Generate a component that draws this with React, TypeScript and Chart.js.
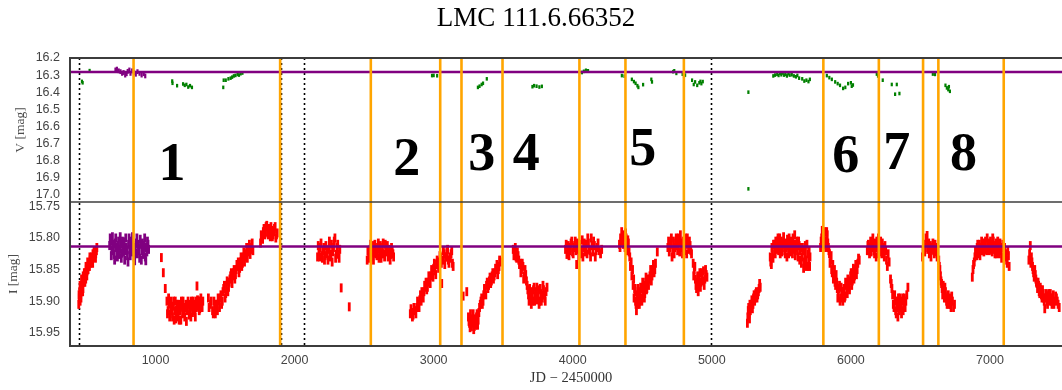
import React, { useEffect, useRef } from "react";
import { Chart, registerables } from "chart.js";

Chart.register(...registerables);

const W = 1062;
const H = 390;

const titleText = "LMC 111.6.66352";
const xAxisTitle = "JD \u2212 2450000";
const vAxisTitle = "V [mag]";
const iAxisTitle = "I [mag]";

// axis ranges and tick values
const xRange = [385, 7518];
const vRange = [16.2, 17.043];
const iRange = [15.743, 15.971];
const xTicks = [1000, 2000, 3000, 4000, 5000, 6000, 7000];
const vTicks = [16.2, 16.3, 16.4, 16.5, 16.6, 16.7, 16.8, 16.9, 17.0];
const iTicks = [15.75, 15.8, 15.85, 15.9, 15.95];

// reference (baseline) magnitudes
const refV = 16.282;
const refI = 15.8135;

// event boundaries (orange) and season gaps (dotted)
const eventBoundsJD = [842, 1896, 2548, 3047, 3200, 3495, 4048, 4379, 4799, 5802, 6201, 6519, 6629, 7099];
const gapJD = [451, 1905, 2069, 4993];

// event numbers placed on the V panel
const eventNames = ["1", "2", "3", "4", "5", "6", "7", "8"];
const eventNameJD = [1118, 2807, 3346, 3665, 4504, 5963, 6330, 6809];
const eventNameV = [16.805, 16.776, 16.747, 16.747, 16.722, 16.759, 16.743, 16.747];

// I band: [JD - 2450000, mag]
const iBand: number[][] = [
  // 1996-97
  [448, 15.905], [452, 15.895], [455, 15.885], [458, 15.9], [462, 15.89], [466, 15.875], [470, 15.885], [474, 15.87],
  [478, 15.88], [482, 15.865], [486, 15.87], [490, 15.86], [494, 15.855], [498, 15.865], [502, 15.85], [506, 15.86],
  [510, 15.845], [515, 15.85], [520, 15.84], [525, 15.845], [530, 15.835], [535, 15.84], [540, 15.83], [545, 15.835],
  [550, 15.825], [555, 15.83], [560, 15.82], [565, 15.83], [570, 15.825], [575, 15.82],
  [450, 15.89], [457, 15.875], [464, 15.895], [468, 15.865], [476, 15.885], [480, 15.86], [488, 15.855], [492, 15.87],
  [500, 15.845], [508, 15.852], [512, 15.838], [518, 15.845], [528, 15.83], [538, 15.832], [548, 15.84], [558, 15.822],
  [568, 15.832], [578, 15.815],
  // 1998-2000
  [1042, 15.831], [1056, 15.855], [1070, 15.88],
  [1082, 15.9], [1090, 15.915], [1098, 15.905], [1106, 15.92], [1114, 15.91], [1122, 15.925], [1130, 15.9], [1138, 15.915],
  [1146, 15.928], [1154, 15.905], [1162, 15.918], [1170, 15.93], [1178, 15.91], [1186, 15.9], [1194, 15.92], [1202, 15.912],
  [1210, 15.925], [1218, 15.905], [1226, 15.915], [1234, 15.9], [1242, 15.922], [1250, 15.91], [1258, 15.9], [1266, 15.918],
  [1274, 15.905], [1282, 15.912], [1290, 15.9], [1298, 15.876], [1306, 15.908], [1314, 15.915], [1322, 15.9], [1330, 15.905],
  [1340, 15.9],
  [1086, 15.92], [1094, 15.895], [1102, 15.925], [1110, 15.9], [1118, 15.915], [1126, 15.908], [1134, 15.93], [1142, 15.9],
  [1150, 15.915], [1158, 15.925], [1166, 15.905], [1174, 15.915], [1182, 15.93], [1190, 15.908], [1198, 15.9], [1206, 15.918],
  [1214, 15.91], [1222, 15.932], [1230, 15.912], [1238, 15.905], [1246, 15.915], [1254, 15.925], [1262, 15.908], [1270, 15.9],
  [1278, 15.915], [1286, 15.925], [1294, 15.91], [1302, 15.898], [1310, 15.9], [1318, 15.912], [1326, 15.895], [1335, 15.91],
  [1380, 15.895], [1395, 15.905], [1410, 15.915], [1420, 15.9], [1430, 15.92], [1440, 15.905], [1450, 15.895], [1460, 15.91],
  [1470, 15.89], [1480, 15.9], [1490, 15.88], [1500, 15.895], [1510, 15.875], [1520, 15.885], [1530, 15.87], [1540, 15.86],
  [1550, 15.872], [1560, 15.855], [1570, 15.865], [1580, 15.85], [1590, 15.845], [1600, 15.855], [1610, 15.838], [1620, 15.845],
  [1630, 15.83], [1640, 15.838], [1650, 15.825], [1660, 15.832], [1670, 15.818], [1680, 15.826], [1690, 15.815], [1700, 15.82],
  [1385, 15.91], [1400, 15.9], [1415, 15.92], [1425, 15.91], [1435, 15.905], [1445, 15.915], [1455, 15.9], [1465, 15.895],
  [1475, 15.905], [1485, 15.885], [1495, 15.875], [1505, 15.888], [1515, 15.868], [1525, 15.878], [1535, 15.865], [1545, 15.855],
  [1555, 15.86], [1565, 15.85], [1575, 15.858], [1585, 15.842], [1595, 15.838], [1605, 15.848], [1615, 15.83], [1625, 15.84],
  [1635, 15.822], [1645, 15.83], [1655, 15.815], [1665, 15.822], [1675, 15.81], [1685, 15.818], [1695, 15.808],
  [1755, 15.808], [1765, 15.8], [1775, 15.79], [1785, 15.795], [1795, 15.782], [1805, 15.79], [1815, 15.785], [1825, 15.798],
  [1835, 15.788], [1845, 15.795], [1855, 15.785], [1865, 15.8], [1875, 15.792],
  [1760, 15.795], [1770, 15.802], [1780, 15.785], [1790, 15.792], [1800, 15.78], [1810, 15.795], [1820, 15.788], [1830, 15.782],
  [1840, 15.798], [1850, 15.79], [1860, 15.782], [1870, 15.795],
  // 2001-02
  [2165, 15.83], [2175, 15.822], [2185, 15.815], [2195, 15.828], [2205, 15.82], [2215, 15.835], [2225, 15.812], [2235, 15.825],
  [2245, 15.818], [2255, 15.83], [2265, 15.81], [2275, 15.822], [2285, 15.805], [2295, 15.832], [2305, 15.815], [2315, 15.825],
  [2325, 15.818], [2335, 15.879], [2393, 15.909],
  [2170, 15.812], [2180, 15.83], [2190, 15.808], [2200, 15.832], [2210, 15.815], [2220, 15.828], [2230, 15.82], [2240, 15.835],
  [2250, 15.805], [2260, 15.825], [2270, 15.838], [2280, 15.815], [2290, 15.8], [2300, 15.826], [2310, 15.81], [2320, 15.832],
  [2522, 15.835], [2532, 15.825], [2542, 15.818], [2552, 15.83], [2562, 15.812], [2572, 15.824], [2582, 15.815], [2592, 15.828],
  [2602, 15.808], [2612, 15.82], [2622, 15.832], [2632, 15.815], [2642, 15.825], [2652, 15.81], [2662, 15.822], [2672, 15.83],
  [2682, 15.818], [2692, 15.826], [2702, 15.82], [2712, 15.83],
  [2527, 15.82], [2537, 15.832], [2547, 15.81], [2557, 15.822], [2567, 15.835], [2577, 15.81], [2587, 15.825], [2597, 15.818],
  [2607, 15.832], [2617, 15.812], [2627, 15.825], [2637, 15.808], [2647, 15.83], [2657, 15.82], [2667, 15.812], [2677, 15.825],
  [2687, 15.835], [2697, 15.815], [2707, 15.825],
  // 2002-03
  [2832, 15.92], [2842, 15.918], [2852, 15.922], [2865, 15.915], [2878, 15.91], [2890, 15.905], [2900, 15.898], [2910, 15.9],
  [2920, 15.89], [2930, 15.885], [2940, 15.878], [2950, 15.882], [2960, 15.87], [2970, 15.865], [2980, 15.86], [2990, 15.855],
  [3000, 15.848], [3010, 15.852], [3020, 15.842], [3030, 15.838], [3040, 15.845], [3050, 15.83], [3058, 15.872], [3066, 15.835],
  [3075, 15.825], [3085, 15.83], [3095, 15.822], [3105, 15.835], [3115, 15.83], [3125, 15.825], [3135, 15.84],
  [2837, 15.912], [2847, 15.925], [2858, 15.91], [2872, 15.92], [2884, 15.9], [2895, 15.91], [2905, 15.89], [2915, 15.885],
  [2925, 15.895], [2935, 15.875], [2945, 15.87], [2955, 15.878], [2965, 15.86], [2975, 15.872], [2985, 15.85], [2995, 15.862],
  [3005, 15.84], [3015, 15.858], [3025, 15.835], [3035, 15.848], [3045, 15.828], [3055, 15.84], [3070, 15.82], [3080, 15.842],
  [3090, 15.83], [3100, 15.818], [3110, 15.84], [3120, 15.832], [3130, 15.82], [3140, 15.845],
  [3212, 15.892], [3238, 15.885], [3250, 15.925], [3258, 15.935], [3265, 15.92], [3272, 15.94], [3280, 15.93], [3288, 15.945],
  [3296, 15.928], [3304, 15.938], [3312, 15.92], [3320, 15.93], [3330, 15.91], [3340, 15.9], [3350, 15.905], [3360, 15.89],
  [3370, 15.885], [3380, 15.875], [3390, 15.88], [3400, 15.868], [3410, 15.872], [3420, 15.86], [3430, 15.865], [3440, 15.855],
  [3450, 15.85], [3460, 15.858], [3470, 15.845], [3478, 15.838],
  [3254, 15.932], [3262, 15.942], [3268, 15.928], [3276, 15.935], [3284, 15.92], [3292, 15.94], [3300, 15.93], [3308, 15.925],
  [3316, 15.938], [3325, 15.918], [3335, 15.905], [3345, 15.895], [3355, 15.9], [3365, 15.88], [3375, 15.89], [3385, 15.87],
  [3395, 15.875], [3405, 15.862], [3415, 15.868], [3425, 15.855], [3435, 15.86], [3445, 15.848], [3455, 15.842], [3465, 15.85],
  [3474, 15.835],
  // 2004-05
  [3572, 15.818], [3582, 15.825], [3592, 15.83], [3602, 15.822], [3612, 15.835], [3622, 15.84], [3632, 15.85], [3642, 15.845],
  [3652, 15.86], [3662, 15.858], [3672, 15.875], [3682, 15.89], [3690, 15.88], [3698, 15.895], [3706, 15.885], [3714, 15.9],
  [3722, 15.878], [3730, 15.892], [3738, 15.885], [3746, 15.898], [3754, 15.882], [3762, 15.9], [3770, 15.888], [3778, 15.895],
  [3786, 15.875], [3794, 15.89], [3802, 15.9], [3815, 15.878],
  [3577, 15.828], [3587, 15.815], [3597, 15.832], [3607, 15.828], [3617, 15.842], [3627, 15.855], [3637, 15.84], [3647, 15.865],
  [3657, 15.85], [3667, 15.868], [3677, 15.882], [3686, 15.9], [3694, 15.888], [3702, 15.905], [3710, 15.89], [3718, 15.882],
  [3726, 15.9], [3734, 15.895], [3742, 15.878], [3750, 15.892], [3758, 15.905], [3766, 15.88], [3774, 15.9], [3782, 15.89],
  [3790, 15.882], [3798, 15.895], [3808, 15.885],
  [3948, 15.818], [3958, 15.826], [3968, 15.812], [3978, 15.82], [3988, 15.808], [3998, 15.822], [4008, 15.815], [4018, 15.805],
  [4028, 15.842], [4038, 15.818], [4048, 15.81], [4058, 15.825], [4068, 15.803], [4078, 15.815], [4088, 15.822], [4098, 15.81],
  [4108, 15.8], [4118, 15.818], [4128, 15.83], [4138, 15.812], [4150, 15.805], [4162, 15.83], [4175, 15.815], [4190, 15.82],
  [4208, 15.818],
  [3953, 15.81], [3963, 15.82], [3973, 15.828], [3983, 15.815], [3993, 15.805], [4003, 15.825], [4013, 15.812], [4023, 15.82],
  [4033, 15.808], [4043, 15.828], [4053, 15.815], [4063, 15.82], [4073, 15.83], [4083, 15.808], [4093, 15.815], [4103, 15.825],
  [4113, 15.808], [4123, 15.82], [4133, 15.8], [4145, 15.822], [4156, 15.812], [4168, 15.82], [4182, 15.808], [4200, 15.825],
  // 2006-07
  [4336, 15.81], [4344, 15.8], [4352, 15.79], [4360, 15.805], [4368, 15.795], [4376, 15.815], [4384, 15.8], [4392, 15.82],
  [4400, 15.808], [4410, 15.83], [4420, 15.838], [4430, 15.85], [4438, 15.865], [4445, 15.88], [4452, 15.9], [4458, 15.915],
  [4464, 15.89], [4470, 15.905], [4476, 15.885], [4482, 15.9], [4488, 15.878], [4494, 15.895], [4500, 15.88], [4506, 15.892],
  [4512, 15.875], [4518, 15.888], [4524, 15.87], [4530, 15.882], [4536, 15.865], [4545, 15.875], [4555, 15.86], [4565, 15.868],
  [4575, 15.85], [4585, 15.855], [4595, 15.84], [4608, 15.822],
  [4340, 15.815], [4348, 15.805], [4356, 15.798], [4364, 15.81], [4372, 15.8], [4380, 15.792], [4388, 15.81], [4396, 15.803],
  [4405, 15.822], [4415, 15.845], [4425, 15.86], [4434, 15.875], [4441, 15.895], [4448, 15.885], [4455, 15.905], [4461, 15.9],
  [4467, 15.88], [4473, 15.895], [4479, 15.905], [4485, 15.89], [4491, 15.88], [4497, 15.9], [4503, 15.87], [4509, 15.885],
  [4515, 15.895], [4521, 15.878], [4527, 15.862], [4533, 15.88], [4540, 15.87], [4550, 15.865], [4560, 15.85], [4570, 15.86],
  [4580, 15.842], [4590, 15.85],
  [4684, 15.815], [4694, 15.822], [4704, 15.81], [4714, 15.83], [4724, 15.805], [4734, 15.815], [4744, 15.8], [4754, 15.82],
  [4764, 15.808], [4774, 15.795], [4784, 15.815], [4794, 15.805], [4804, 15.82], [4814, 15.81], [4824, 15.8], [4834, 15.818],
  [4844, 15.812], [4854, 15.825],
  [4689, 15.805], [4699, 15.815], [4709, 15.8], [4719, 15.818], [4729, 15.825], [4739, 15.808], [4749, 15.812], [4759, 15.8],
  [4769, 15.822], [4779, 15.808], [4789, 15.825], [4799, 15.81], [4809, 15.8], [4819, 15.825], [4829, 15.81], [4839, 15.805],
  [4849, 15.82],
  [4866, 15.84], [4874, 15.85], [4882, 15.865], [4890, 15.88], [4898, 15.86], [4906, 15.875], [4914, 15.855], [4922, 15.87],
  [4930, 15.86], [4940, 15.852], [4950, 15.865], [4960, 15.858],
  [4870, 15.86], [4878, 15.845], [4886, 15.875], [4894, 15.87], [4902, 15.885], [4910, 15.865], [4918, 15.878], [4926, 15.855],
  [4935, 15.868], [4945, 15.875], [4955, 15.85], [4965, 15.862],
  // 2010-11
  [5256, 15.935], [5262, 15.915], [5268, 15.92], [5274, 15.905], [5280, 15.91], [5288, 15.898], [5296, 15.905], [5304, 15.89],
  [5312, 15.895], [5320, 15.885], [5330, 15.89], [5340, 15.88], [5348, 15.878],
  [5259, 15.925], [5265, 15.91], [5271, 15.928], [5277, 15.915], [5284, 15.905], [5292, 15.912], [5300, 15.895], [5308, 15.9],
  [5316, 15.888], [5325, 15.895], [5335, 15.885], [5344, 15.872],
  [5420, 15.83], [5428, 15.842], [5436, 15.825], [5444, 15.81], [5452, 15.82], [5460, 15.805], [5468, 15.818], [5476, 15.8],
  [5484, 15.812], [5492, 15.825], [5500, 15.805], [5508, 15.815], [5516, 15.798], [5524, 15.82], [5532, 15.808], [5540, 15.83],
  [5548, 15.812], [5556, 15.8], [5564, 15.818], [5572, 15.805], [5580, 15.825], [5588, 15.81], [5596, 15.795], [5604, 15.815],
  [5612, 15.805], [5620, 15.83], [5628, 15.812], [5636, 15.82], [5644, 15.84], [5652, 15.815], [5660, 15.848], [5668, 15.825],
  [5676, 15.835], [5684, 15.81], [5692, 15.845], [5700, 15.82], [5706, 15.83],
  [5424, 15.838], [5432, 15.815], [5440, 15.832], [5448, 15.81], [5456, 15.825], [5464, 15.812], [5472, 15.805], [5480, 15.82],
  [5488, 15.8], [5496, 15.815], [5504, 15.822], [5512, 15.808], [5520, 15.81], [5528, 15.825], [5536, 15.815], [5544, 15.802],
  [5552, 15.825], [5560, 15.81], [5568, 15.822], [5576, 15.812], [5584, 15.8], [5592, 15.818], [5600, 15.828], [5608, 15.81],
  [5616, 15.82], [5624, 15.805], [5632, 15.835], [5640, 15.815], [5648, 15.83], [5656, 15.82], [5664, 15.838], [5672, 15.812],
  [5680, 15.845], [5688, 15.825], [5696, 15.832], [5703, 15.845],
  [5782, 15.815], [5790, 15.8], [5798, 15.792], [5806, 15.81], [5814, 15.79], [5822, 15.805], [5830, 15.795], [5838, 15.815],
  [5846, 15.825], [5854, 15.835], [5862, 15.85], [5870, 15.842], [5878, 15.86], [5886, 15.87], [5894, 15.858], [5902, 15.88],
  [5910, 15.89], [5918, 15.875], [5926, 15.895], [5934, 15.885], [5942, 15.9], [5950, 15.88], [5958, 15.892], [5966, 15.875],
  [5974, 15.888], [5982, 15.87], [5990, 15.882], [5998, 15.86], [6006, 15.875], [6014, 15.855], [6022, 15.865], [6030, 15.85],
  [6040, 15.858], [6050, 15.84], [6060, 15.835],
  [5786, 15.805], [5794, 15.788], [5802, 15.8], [5810, 15.798], [5818, 15.815], [5826, 15.79], [5834, 15.808], [5842, 15.82],
  [5850, 15.84], [5858, 15.828], [5866, 15.855], [5874, 15.865], [5882, 15.85], [5890, 15.875], [5898, 15.87], [5906, 15.895],
  [5914, 15.88], [5922, 15.9], [5930, 15.878], [5938, 15.892], [5946, 15.885], [5954, 15.895], [5962, 15.87], [5970, 15.882],
  [5978, 15.865], [5986, 15.878], [5994, 15.868], [6002, 15.855], [6010, 15.868], [6018, 15.848], [6026, 15.86], [6035, 15.842],
  [6045, 15.85], [6055, 15.832],
  // 2012-13
  [6118, 15.82], [6126, 15.81], [6134, 15.825], [6142, 15.805], [6150, 15.815], [6158, 15.8], [6166, 15.82], [6174, 15.808],
  [6182, 15.83], [6190, 15.812], [6198, 15.8], [6206, 15.818], [6214, 15.805], [6222, 15.825], [6230, 15.815], [6240, 15.83],
  [6250, 15.82], [6262, 15.845], [6275, 15.838],
  [6122, 15.812], [6130, 15.82], [6138, 15.815], [6146, 15.822], [6154, 15.808], [6162, 15.812], [6170, 15.825], [6178, 15.815],
  [6186, 15.805], [6194, 15.825], [6202, 15.81], [6210, 15.822], [6218, 15.815], [6226, 15.808], [6235, 15.822], [6245, 15.812],
  [6256, 15.835], [6268, 15.825],
  [6285, 15.865], [6295, 15.88], [6305, 15.905], [6315, 15.89], [6322, 15.915], [6330, 15.9], [6338, 15.925], [6345, 15.905],
  [6352, 15.895], [6360, 15.91], [6368, 15.9], [6376, 15.915], [6385, 15.895], [6395, 15.9], [6410, 15.878],
  [6290, 15.872], [6300, 15.89], [6310, 15.91], [6318, 15.9], [6326, 15.92], [6334, 15.91], [6342, 15.895], [6348, 15.915],
  [6356, 15.905], [6364, 15.92], [6372, 15.895], [6380, 15.905], [6390, 15.91], [6402, 15.89],
  [6515, 15.83], [6523, 15.815], [6531, 15.822], [6540, 15.8], [6548, 15.796], [6556, 15.81], [6564, 15.825], [6572, 15.812],
  [6580, 15.818], [6590, 15.808], [6600, 15.825], [6610, 15.815], [6620, 15.83],
  [6519, 15.82], [6527, 15.81], [6535, 15.815], [6544, 15.805], [6552, 15.818], [6560, 15.808], [6568, 15.82], [6576, 15.83],
  [6585, 15.815], [6595, 15.82], [6605, 15.81], [6615, 15.822],
  [6632, 15.835], [6640, 15.85], [6648, 15.868], [6656, 15.88], [6664, 15.875], [6672, 15.895], [6680, 15.885], [6688, 15.9],
  [6696, 15.892], [6704, 15.905], [6712, 15.895], [6720, 15.91], [6730, 15.9], [6745, 15.905],
  [6636, 15.845], [6644, 15.86], [6652, 15.872], [6660, 15.89], [6668, 15.885], [6676, 15.878], [6684, 15.895], [6692, 15.905],
  [6700, 15.89], [6708, 15.9], [6716, 15.905], [6725, 15.892], [6738, 15.91],
  // 2014-16
  [6873, 15.862], [6882, 15.842], [6892, 15.83], [6900, 15.822], [6908, 15.815], [6916, 15.825], [6924, 15.81], [6932, 15.82],
  [6940, 15.805], [6948, 15.815], [6956, 15.822], [6964, 15.808], [6972, 15.818], [6980, 15.8], [6988, 15.812], [6996, 15.82],
  [7004, 15.805], [7012, 15.815], [7020, 15.8], [7028, 15.812], [7036, 15.825], [7044, 15.808], [7052, 15.818], [7060, 15.81],
  [7068, 15.825], [7076, 15.815], [7084, 15.832], [7092, 15.81], [7100, 15.822], [7110, 15.83], [7120, 15.835], [7128, 15.82],
  [7138, 15.845],
  [6878, 15.85], [6887, 15.838], [6896, 15.82], [6904, 15.828], [6912, 15.81], [6920, 15.818], [6928, 15.828], [6936, 15.815],
  [6944, 15.82], [6952, 15.808], [6960, 15.818], [6968, 15.805], [6976, 15.82], [6984, 15.81], [6992, 15.808], [7000, 15.818],
  [7008, 15.81], [7016, 15.822], [7024, 15.805], [7032, 15.818], [7040, 15.815], [7048, 15.825], [7056, 15.805], [7064, 15.818],
  [7072, 15.808], [7080, 15.82], [7088, 15.815], [7096, 15.83], [7105, 15.815], [7115, 15.825], [7124, 15.84], [7133, 15.828],
  [7280, 15.835], [7290, 15.812], [7298, 15.83], [7306, 15.845], [7314, 15.855], [7322, 15.85], [7330, 15.865], [7338, 15.872],
  [7346, 15.87], [7354, 15.885], [7362, 15.878], [7370, 15.89], [7378, 15.882], [7386, 15.895], [7394, 15.912], [7402, 15.888],
  [7410, 15.9], [7418, 15.892], [7426, 15.898], [7434, 15.888], [7442, 15.9], [7450, 15.895], [7460, 15.905], [7472, 15.892],
  [7484, 15.9], [7498, 15.91],
  [7285, 15.825], [7294, 15.84], [7302, 15.838], [7310, 15.85], [7318, 15.862], [7326, 15.858], [7334, 15.87], [7342, 15.88],
  [7350, 15.875], [7358, 15.888], [7366, 15.882], [7374, 15.895], [7382, 15.888], [7390, 15.9], [7398, 15.895], [7406, 15.89],
  [7414, 15.905], [7422, 15.888], [7430, 15.9], [7438, 15.895], [7446, 15.905], [7455, 15.89], [7465, 15.9], [7478, 15.895],
  [7490, 15.905],
];

// I band, reference season
const iBandRef: number[][] = [
  [670, 15.812], [678, 15.805], [686, 15.82], [694, 15.81], [702, 15.826], [710, 15.808], [718, 15.815], [726, 15.83],
  [734, 15.805], [742, 15.818], [750, 15.81], [758, 15.824], [766, 15.812], [774, 15.806], [782, 15.82], [790, 15.815],
  [798, 15.828], [806, 15.81], [814, 15.818], [822, 15.805], [830, 15.822], [838, 15.812], [846, 15.83], [854, 15.815],
  [862, 15.808], [870, 15.825], [878, 15.816], [886, 15.832], [894, 15.81], [902, 15.82], [910, 15.826], [918, 15.812],
  [926, 15.83], [934, 15.815], [942, 15.805], [950, 15.818],
  [674, 15.8], [682, 15.828], [690, 15.798], [698, 15.818], [706, 15.835], [714, 15.8], [722, 15.822], [730, 15.812],
  [738, 15.826], [746, 15.798], [754, 15.832], [762, 15.805], [770, 15.822], [778, 15.835], [786, 15.8], [794, 15.82],
  [802, 15.838], [810, 15.8], [818, 15.828], [826, 15.812], [834, 15.798], [842, 15.818], [850, 15.836], [858, 15.824],
  [866, 15.8], [874, 15.81], [882, 15.82], [890, 15.802], [898, 15.835], [906, 15.808], [914, 15.822], [922, 15.8],
  [930, 15.836], [938, 15.822], [946, 15.81],
];

// V band: [JD - 2450000, mag]
const vBand: number[][] = [
  [471, 16.337], [476, 16.345], [526, 16.274],
  [1120, 16.335], [1122, 16.348], [1155, 16.362], [1198, 16.352], [1210, 16.36], [1222, 16.355], [1235, 16.37], [1248, 16.362],
  [1262, 16.372],
  [1487, 16.372], [1490, 16.33], [1505, 16.33], [1524, 16.322], [1540, 16.318], [1551, 16.312], [1563, 16.305], [1575, 16.302],
  [1590, 16.296], [1600, 16.3], [1612, 16.292], [1625, 16.288],
  [2988, 16.303], [3000, 16.302], [3025, 16.304],
  [3318, 16.372], [3330, 16.365], [3345, 16.355], [3355, 16.348], [3382, 16.322],
  [3710, 16.368], [3722, 16.362], [3740, 16.365], [3760, 16.37], [3778, 16.366],
  [4066, 16.285], [4080, 16.278], [4095, 16.272], [4110, 16.275],
  [4353, 16.303], [4372, 16.306], [4425, 16.325], [4440, 16.338], [4452, 16.348], [4465, 16.362], [4472, 16.372], [4506, 16.356],
  [4565, 16.325], [4570, 16.34],
  [4722, 16.28], [4730, 16.275], [4745, 16.29], [4790, 16.295], [4800, 16.305], [4808, 16.3],
  [4858, 16.33], [4870, 16.355], [4880, 16.34], [4895, 16.36], [4910, 16.345], [4918, 16.337], [4925, 16.35], [4935, 16.338],
  [5263, 16.4], [5263, 16.966],
  [5442, 16.305], [5455, 16.3], [5470, 16.295], [5480, 16.302], [5490, 16.29], [5500, 16.298], [5510, 16.288], [5520, 16.3],
  [5530, 16.295], [5540, 16.305], [5550, 16.292], [5560, 16.3], [5575, 16.298], [5590, 16.305], [5605, 16.31], [5615, 16.302],
  [5628, 16.318], [5650, 16.322], [5665, 16.335], [5680, 16.33], [5695, 16.338], [5705, 16.325],
  [5827, 16.303], [5845, 16.315], [5863, 16.325], [5887, 16.34], [5905, 16.35], [5922, 16.36], [5944, 16.378], [5960, 16.372],
  [5980, 16.35], [6000, 16.345], [6006, 16.365], [6015, 16.358],
  [6186, 16.294], [6195, 16.305], [6229, 16.33], [6294, 16.355], [6318, 16.412], [6330, 16.355], [6349, 16.408],
  [6589, 16.294], [6605, 16.296],
  [6680, 16.36], [6690, 16.375], [6700, 16.385], [6705, 16.368], [6712, 16.395],
];

// V band, reference season
const vBandRef: number[][] = [
  [712, 16.27], [722, 16.265], [735, 16.275], [748, 16.28], [760, 16.29], [770, 16.285], [782, 16.3], [792, 16.292],
  [800, 16.278], [812, 16.27], [820, 16.29], [832, 16.275], [845, 16.285], [858, 16.295], [870, 16.28], [885, 16.29],
  [900, 16.3], [915, 16.292], [926, 16.305],
];

const RED = "#ff0000";
const PURPLE = "#800080";
const GREEN = "#008000";
const ORANGE = "#ffa500";
const FRAME = "#3c3c3c";
const TICK_FONT = { family: '"Liberation Sans", Arial, sans-serif', size: 12.5 };
const TICK_COLOR = "#444444";

const toXY = (pts: number[][]) => pts.map(([x, y]) => ({ x, y }));

const barSeries = (pts: number[][], color: string, axis: string, r: number, w: number) => ({
  type: "scatter" as const,
  data: toXY(pts),
  yAxisID: axis,
  xAxisID: "x",
  showLine: false,
  pointStyle: "line" as const,
  pointRotation: 90,
  pointRadius: r,
  pointHoverRadius: r,
  pointBorderWidth: w,
  pointBorderColor: color,
  pointBackgroundColor: color,
});

const overlay = {
  id: "lightCurveOverlay",
  beforeDatasetsDraw(chart: any) {
    const { ctx, chartArea: a, scales } = chart;
    ctx.save();
    ctx.strokeStyle = "#000000";
    ctx.lineWidth = 1.6;
    ctx.setLineDash([2, 3]);
    for (const jd of gapJD) {
      const x = Math.round(scales.x.getPixelForValue(jd)) + 0.5;
      ctx.beginPath();
      ctx.moveTo(x, a.top);
      ctx.lineTo(x, a.bottom);
      ctx.stroke();
    }
    ctx.restore();
  },
  afterDatasetsDraw(chart: any) {
    const { ctx, chartArea: a, scales } = chart;
    const right = a.right + 4;
    ctx.save();
    // baseline magnitudes
    ctx.strokeStyle = PURPLE;
    ctx.lineWidth = 2.6;
    for (const [axis, val] of [["yV", refV], ["yI", refI]] as [string, number][]) {
      const y = scales[axis].getPixelForValue(val);
      ctx.beginPath();
      ctx.moveTo(a.left, y);
      ctx.lineTo(right, y);
      ctx.stroke();
    }
    // event boundaries
    ctx.strokeStyle = ORANGE;
    ctx.lineWidth = 2.6;
    for (const jd of eventBoundsJD) {
      const x = scales.x.getPixelForValue(jd);
      ctx.beginPath();
      ctx.moveTo(x, a.top);
      ctx.lineTo(x, a.bottom);
      ctx.stroke();
    }
    // frame and panel divider
    ctx.strokeStyle = FRAME;
    ctx.lineWidth = 2;
    ctx.beginPath();
    ctx.moveTo(right, a.top);
    ctx.lineTo(a.left, a.top);
    ctx.lineTo(a.left, a.bottom);
    ctx.lineTo(right, a.bottom);
    ctx.stroke();
    const yDiv = scales.yV.bottom;
    ctx.lineWidth = 1.6;
    ctx.beginPath();
    ctx.moveTo(a.left, yDiv);
    ctx.lineTo(right, yDiv);
    ctx.stroke();
    // event numbers
    ctx.fillStyle = "#000000";
    ctx.font = 'bold 54px "Liberation Serif", "Times New Roman", serif';
    ctx.textAlign = "center";
    ctx.textBaseline = "alphabetic";
    eventNames.forEach((name, i) => {
      const x = scales.x.getPixelForValue(eventNameJD[i]);
      const y = scales.yV.getPixelForValue(eventNameV[i]);
      ctx.fillText(name, x, y + 54 * 0.338);
    });
    ctx.restore();
  },
  afterDraw(chart: any) {
    const { ctx, scales } = chart;
    ctx.save();
    ctx.fillStyle = "#000000";
    ctx.font = '27px "Liberation Serif", "Times New Roman", serif';
    ctx.textAlign = "center";
    ctx.textBaseline = "alphabetic";
    ctx.fillText(titleText, 536, 26);

    ctx.fillStyle = "#333333";
    ctx.font = '14.5px "Liberation Serif", "Times New Roman", serif';
    ctx.textBaseline = "middle";
    ctx.fillText(xAxisTitle, 571, 378);

    ctx.fillStyle = "#4d4d4d";
    ctx.font = '13.5px "Liberation Serif", "Times New Roman", serif';
    const vMid = (scales.yV.top + scales.yV.bottom) / 2;
    const iMid = (scales.yI.top + scales.yI.bottom) / 2;
    for (const [text, x, y] of [[vAxisTitle, 20.5, vMid], [iAxisTitle, 13.5, iMid]] as [string, number, number][]) {
      ctx.save();
      ctx.translate(x, y);
      ctx.rotate(-Math.PI / 2);
      ctx.fillText(text, 0, 0);
      ctx.restore();
    }
    ctx.restore();
  },
};

const fixedTicks = (values: number[]) => (scale: any) => {
  scale.ticks = values.map((value) => ({ value }));
};

export default function App() {
  const canvasRef = useRef<HTMLCanvasElement>(null);

  useEffect(() => {
    const canvas = canvasRef.current;
    if (!canvas) return;
    const chart = new Chart(canvas, {
      type: "scatter",
      data: {
        datasets: [
          barSeries(vBandRef, PURPLE, "yV", 2.4, 2.2),
          barSeries(vBand, GREEN, "yV", 1.8, 2.2),
          barSeries(iBand, RED, "yI", 4.5, 2.8),
          barSeries(iBandRef, PURPLE, "yI", 4.5, 2.8),
        ] as any,
      },
      options: {
        responsive: false,
        animation: false,
        devicePixelRatio: 1,
        events: [],
        layout: { autoPadding: false, padding: { top: 58, left: 0, right: 0, bottom: 0 } },
        plugins: {
          legend: { display: false },
          title: { display: false },
          tooltip: { enabled: false },
        },
        scales: {
          x: {
            type: "linear",
            position: "bottom",
            min: xRange[0],
            max: xRange[1],
            grid: { display: false, drawTicks: false },
            border: { display: false },
            ticks: {
              font: TICK_FONT,
              color: TICK_COLOR,
              padding: 7,
              maxRotation: 0,
              autoSkip: false,
              callback: (v: any) => String(v),
            },
            afterBuildTicks: fixedTicks(xTicks),
            afterFit: (s: any) => {
              s.height = 44;
              s.paddingLeft = 0;
              s.paddingRight = 0;
            },
          },
          yI: {
            type: "linear",
            position: "left",
            stack: "mag",
            stackWeight: 1,
            reverse: true,
            min: iRange[0],
            max: iRange[1],
            grid: { display: false, drawTicks: false },
            border: { display: false },
            ticks: {
              font: TICK_FONT,
              color: TICK_COLOR,
              padding: 10,
              autoSkip: false,
              callback: (v: any) => Number(v).toFixed(2),
            },
            afterBuildTicks: fixedTicks(iTicks),
            afterFit: (s: any) => {
              s.width = 70;
              s.paddingTop = 0;
              s.paddingBottom = 0;
            },
          },
          yV: {
            type: "linear",
            position: "left",
            stack: "mag",
            stackWeight: 1,
            reverse: true,
            min: vRange[0],
            max: vRange[1],
            grid: { display: false, drawTicks: false },
            border: { display: false },
            ticks: {
              font: TICK_FONT,
              color: TICK_COLOR,
              padding: 10,
              autoSkip: false,
              callback: (v: any) => Number(v).toFixed(1),
            },
            afterBuildTicks: fixedTicks(vTicks),
            afterFit: (s: any) => {
              s.width = 70;
              s.paddingTop = 0;
              s.paddingBottom = 0;
            },
          },
        },
      } as any,
      plugins: [overlay],
    });
    return () => chart.destroy();
  }, []);

  return (
    <div
      style={{
        position: "absolute",
        left: 0,
        top: 0,
        width: W,
        height: H,
        overflow: "hidden",
        background: "#ffffff",
      }}
    >
      <canvas ref={canvasRef} width={W} height={H} style={{ display: "block", width: W, height: H }} />
    </div>
  );
}
